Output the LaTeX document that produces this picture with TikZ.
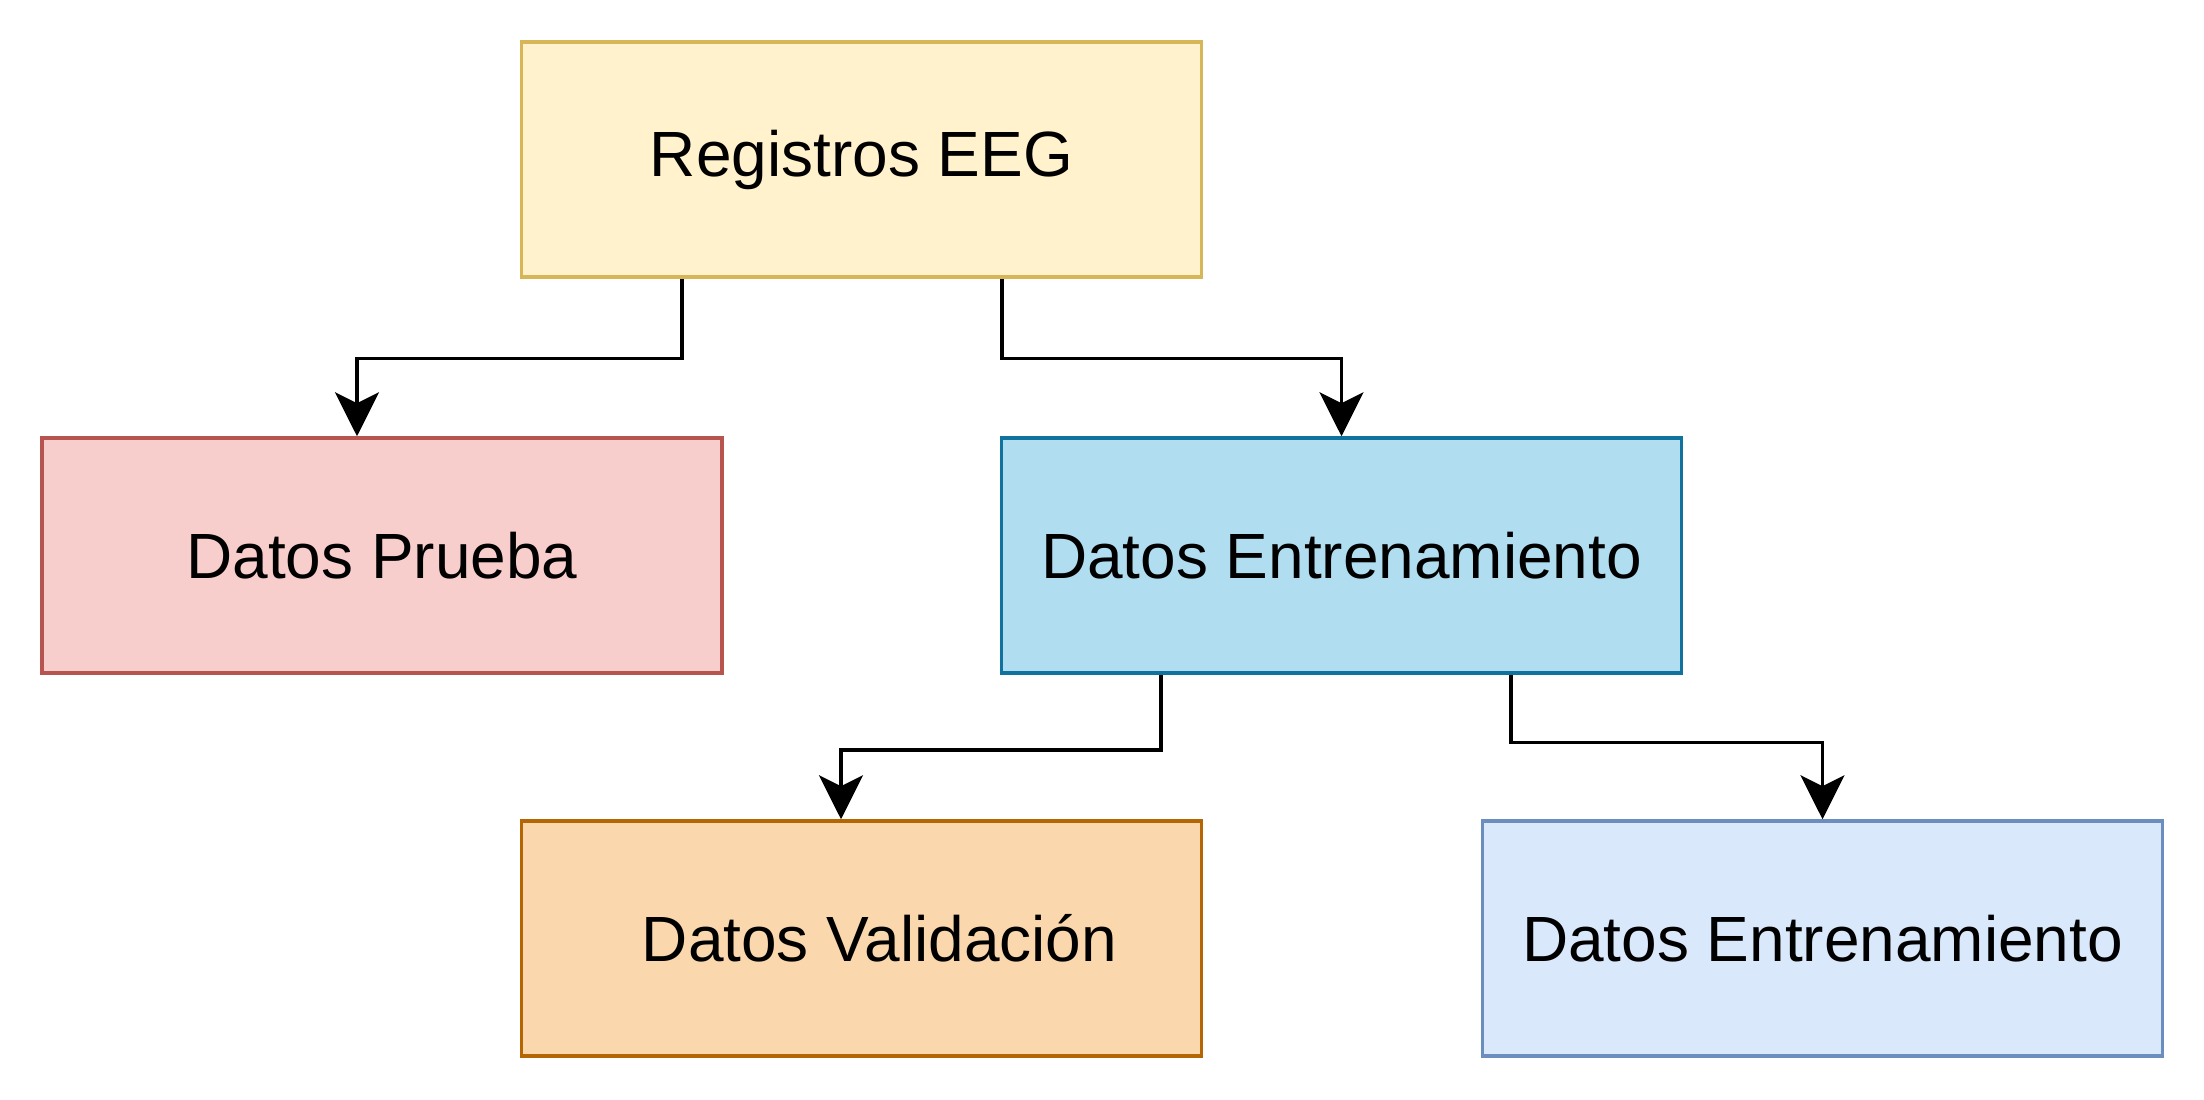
\documentclass[tikz,border=0pt]{standalone}
\usepackage{fontspec}
\setmainfont{Liberation Sans}
\usetikzlibrary{arrows.meta}
\definecolor{amarilloF}{HTML}{FFF2CC}\definecolor{amarilloB}{HTML}{D6B656}
\definecolor{rojoF}{HTML}{F8CECC}\definecolor{rojoB}{HTML}{B85450}
\definecolor{azulF}{HTML}{B1DDF0}\definecolor{azulB}{HTML}{10739E}
\definecolor{naranjaF}{HTML}{FAD7AC}\definecolor{naranjaB}{HTML}{B46504}
\definecolor{celesteF}{HTML}{DAE8FC}\definecolor{celesteB}{HTML}{6C8EBF}
\begin{document}
\begin{tikzpicture}[font=\fontsize{18.2}{22}\selectfont,
  caja/.style={draw, line width=0.035cm, minimum width=6.8cm, minimum height=2.35cm, inner sep=0pt},
  flecha/.style={line width=0.035cm, -{Stealth[length=4.4mm, width=4.4mm, inset=1.1mm]}}]
\useasboundingbox (0,0) rectangle (22.04,-11);
% cajas
\node[caja, fill=amarilloF, draw=amarilloB] (reg) at (8.615,-1.595) {\raisebox{-0.06cm}{Registros EEG}};
\node[caja, fill=rojoF, draw=rojoB] (prueba) at (3.82,-5.555) {\raisebox{-0.04cm}{Datos Prueba}};
\node[caja, fill=azulF, draw=azulB] (entr) at (13.415,-5.555) {\raisebox{-0.04cm}{Datos Entrenamiento}};
\node[caja, fill=naranjaF, draw=naranjaB] (valid) at (8.615,-9.385) {\hspace*{0.36cm}Datos Validación};
\node[caja, fill=celesteF, draw=celesteB] (entrB) at (18.225,-9.385) {Datos Entrenamiento};
% flechas
\draw[flecha] ([xshift=-1.795cm]reg.south) -- ++(0,-0.8) -| ([xshift=-0.25cm]prueba.north);
\draw[flecha] ([xshift=1.405cm]reg.south) -- ++(0,-0.8) -| (entr.north);
\draw[flecha] ([xshift=-1.805cm]entr.south) -- ++(0,-0.75) -| ([xshift=-0.205cm]valid.north);
\draw[flecha] ([xshift=1.695cm]entr.south) -- ++(0,-0.68) -| (entrB.north);
\end{tikzpicture}
\end{document}
